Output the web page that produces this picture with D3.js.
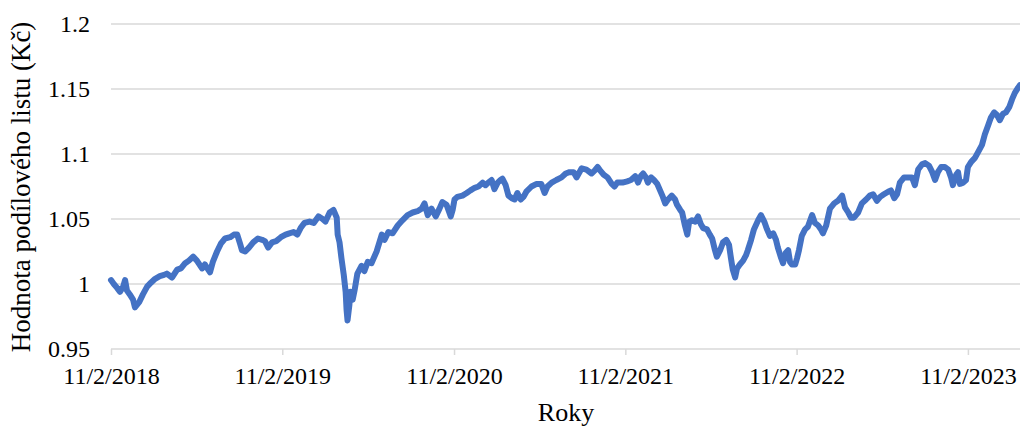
<!DOCTYPE html>
<html>
<head>
<meta charset="utf-8">
<script src="https://cdn.jsdelivr.net/npm/d3@7"></script>
<style>
  body { margin: 0; background: #fff; }
  text { font-family: "Liberation Serif", "Times New Roman", serif; fill: #000; }
</style>
</head>
<body>
<svg id="chart" width="1020" height="426"></svg>
<script>
// dates of the observations (m/d/yyyy readings from the picture)
const dates = [
  "2018-11-02","2018-11-08","2018-11-15","2018-11-21","2018-11-28","2018-12-02","2018-12-06","2018-12-12","2018-12-19","2018-12-23",
  "2019-01-01","2019-01-09","2019-01-18","2019-01-26","2019-02-04","2019-02-14","2019-02-23","2019-03-01","2019-03-12","2019-03-23",
  "2019-03-31","2019-04-09","2019-04-17","2019-04-26","2019-05-04","2019-05-15","2019-05-21","2019-06-01","2019-06-07","2019-06-16",
  "2019-06-24","2019-07-03","2019-07-14","2019-07-22","2019-07-29","2019-08-04","2019-08-08","2019-08-15","2019-08-23","2019-09-01",
  "2019-09-11","2019-09-20","2019-09-26","2019-10-03","2019-10-11","2019-10-20","2019-10-30",
  "2019-11-09","2019-11-17","2019-11-26","2019-12-04","2019-12-11","2019-12-19","2019-12-30","2020-01-08","2020-01-18","2020-01-27",
  "2020-02-02","2020-02-11","2020-02-19","2020-02-26","2020-02-28","2020-03-03","2020-03-07","2020-03-12","2020-03-16","2020-03-18",
  "2020-03-20","2020-03-24","2020-03-26","2020-03-31","2020-04-04","2020-04-10","2020-04-19","2020-04-25","2020-05-02","2020-05-10",
  "2020-05-21","2020-06-01","2020-06-07","2020-06-15","2020-06-24","2020-07-05","2020-07-15","2020-07-26","2020-08-06","2020-08-16",
  "2020-08-25","2020-08-31","2020-09-07","2020-09-15","2020-09-24","2020-10-02","2020-10-08","2020-10-17","2020-10-26","2020-10-30",
  "2020-11-03","2020-11-09","2020-11-20","2020-11-29","2020-12-07","2020-12-16","2020-12-24","2021-01-02","2021-01-08","2021-01-14",
  "2021-01-21","2021-01-27","2021-02-03","2021-02-09","2021-02-13","2021-02-20","2021-02-26","2021-03-05","2021-03-11","2021-03-17",
  "2021-03-24","2021-03-30","2021-04-05","2021-04-16","2021-04-27","2021-05-07","2021-05-14","2021-05-20","2021-05-29","2021-06-08",
  "2021-06-19","2021-06-28","2021-07-06","2021-07-15","2021-07-21","2021-08-01","2021-08-11","2021-08-22","2021-08-28","2021-09-04",
  "2021-09-10","2021-09-17","2021-09-25","2021-10-04","2021-10-10","2021-10-16","2021-10-27",
  "2021-11-06","2021-11-14","2021-11-23","2021-11-29","2021-12-05","2021-12-10","2021-12-16","2021-12-20","2021-12-27","2022-01-02",
  "2022-01-09","2022-01-15","2022-01-21","2022-01-26","2022-02-01","2022-02-09","2022-02-16","2022-02-20","2022-02-27","2022-03-03",
  "2022-03-09","2022-03-14","2022-03-18","2022-03-24","2022-03-31","2022-04-06","2022-04-12","2022-04-17","2022-04-25","2022-05-01",
  "2022-05-06","2022-05-12","2022-05-16","2022-05-23","2022-05-29","2022-06-05","2022-06-11","2022-06-15","2022-06-19","2022-06-24",
  "2022-06-28","2022-07-04","2022-07-11","2022-07-17","2022-07-21","2022-07-28","2022-08-03","2022-08-12","2022-08-18","2022-08-25",
  "2022-08-31","2022-09-06","2022-09-13","2022-09-19","2022-09-23","2022-09-30","2022-10-04","2022-10-10","2022-10-15","2022-10-19",
  "2022-10-23","2022-10-30",
  "2022-11-03","2022-11-07","2022-11-13","2022-11-20","2022-11-26","2022-12-05","2022-12-11","2022-12-18","2022-12-24","2022-12-28",
  "2023-01-04","2023-01-12","2023-01-21","2023-01-29","2023-02-07","2023-02-13","2023-02-20","2023-02-26","2023-03-04","2023-03-13",
  "2023-03-21","2023-03-30","2023-04-07","2023-04-14","2023-04-22","2023-04-29","2023-05-07","2023-05-16","2023-05-22","2023-05-29",
  "2023-06-04","2023-06-10","2023-06-19","2023-06-27","2023-07-06","2023-07-12","2023-07-19","2023-07-27","2023-08-03","2023-08-11",
  "2023-08-18","2023-08-24","2023-08-30","2023-09-06","2023-09-14","2023-09-21","2023-09-27","2023-10-01","2023-10-08","2023-10-12",
  "2023-10-16","2023-10-23","2023-10-29","2023-11-02","2023-11-09","2023-11-17","2023-11-26","2023-12-02","2023-12-08","2023-12-15",
  "2023-12-21","2023-12-28","2024-01-03","2024-01-09","2024-01-16","2024-01-22","2024-01-29","2024-02-04","2024-02-10","2024-02-17",
  "2024-02-21"
];

// unit value (Kč)
const values = [
  1.003,1.000,0.997,0.994,0.998,1.003,0.995,0.992,0.988,0.982,
  0.986,0.992,0.998,1.001,1.004,1.006,1.007,1.008,1.005,1.011,
  1.012,1.016,1.018,1.021,1.018,1.012,1.015,1.009,1.017,1.025,
  1.031,1.035,1.036,1.038,1.038,1.031,1.026,1.025,1.028,1.032,
  1.035,1.034,1.033,1.028,1.032,1.033,1.036,
  1.038,1.039,1.040,1.038,1.043,1.047,1.048,1.047,1.052,1.050,
  1.048,1.055,1.057,1.051,1.038,1.032,1.020,1.007,0.994,0.980,
  0.972,0.984,0.994,0.988,0.995,1.008,1.014,1.010,1.017,1.016,
  1.025,1.038,1.034,1.040,1.039,1.045,1.049,1.053,1.055,1.056,
  1.058,1.062,1.053,1.058,1.052,1.058,1.063,1.061,1.052,1.057,
  1.065,1.067,1.068,1.070,1.072,1.074,1.075,1.078,1.076,1.078,
  1.080,1.073,1.078,1.080,1.081,1.076,1.068,1.066,1.065,1.070,
  1.065,1.067,1.071,1.075,1.077,1.077,1.070,1.075,1.078,1.080,
  1.082,1.085,1.086,1.086,1.082,1.089,1.088,1.085,1.087,1.090,
  1.087,1.084,1.082,1.077,1.075,1.078,1.078,
  1.079,1.080,1.083,1.078,1.083,1.085,1.082,1.078,1.082,1.080,
  1.077,1.072,1.067,1.062,1.065,1.068,1.065,1.061,1.057,1.055,
  1.045,1.038,1.048,1.049,1.048,1.052,1.046,1.043,1.042,1.038,
  1.035,1.026,1.021,1.026,1.032,1.034,1.030,1.020,1.011,1.005,
  1.012,1.015,1.018,1.022,1.026,1.034,1.042,1.049,1.053,1.048,
  1.042,1.037,1.039,1.034,1.028,1.020,1.016,1.024,1.026,1.017,
  1.015,1.015,
  1.020,1.026,1.037,1.042,1.044,1.053,1.047,1.045,1.042,1.039,
  1.045,1.058,1.062,1.064,1.068,1.059,1.055,1.051,1.051,1.055,
  1.062,1.065,1.068,1.069,1.064,1.067,1.069,1.071,1.072,1.066,
  1.069,1.078,1.082,1.082,1.082,1.076,1.088,1.092,1.093,1.091,
  1.086,1.080,1.086,1.090,1.090,1.088,1.082,1.076,1.084,1.086,
  1.077,1.078,1.080,1.090,1.094,1.097,1.103,1.107,1.115,1.122,
  1.128,1.132,1.130,1.126,1.131,1.132,1.136,1.142,1.147,1.151,
  1.153
];

const yTicks = [0.95, 1, 1.05, 1.1, 1.15, 1.2];
const xTickDates = ["2018-11-02","2019-11-02","2020-11-02","2021-11-02","2022-11-02","2023-11-02"];
const domainEnd = "2024-02-21";

const parse = d3.timeParse("%Y-%m-%d");
const data = dates.map((d, i) => ({ date: parse(d), value: values[i] }));

const svg = d3.select("#chart");
const plotLeft = 111, plotRight = 1020, plotTop = 24, plotBottom = 349;

const x = d3.scaleTime()
    .domain([parse(dates[0]), parse(domainEnd)])
    .range([plotLeft, plotRight]);

const y = d3.scaleLinear()
    .domain([0.95, 1.2])
    .range([plotBottom, plotTop]);

// gridlines
svg.append("g")
    .selectAll("line")
    .data(yTicks)
    .join("line")
    .attr("x1", plotLeft)
    .attr("x2", plotRight)
    .attr("y1", d => y(d))
    .attr("y2", d => y(d))
    .attr("stroke", "#d9d9d9")
    .attr("stroke-width", 1.5);

// y tick labels
svg.append("g")
    .selectAll("text")
    .data(yTicks)
    .join("text")
    .attr("x", 90)
    .attr("y", d => y(d))
    .attr("dy", "0.34em")
    .attr("text-anchor", "end")
    .style("font-size", "24px")
    .text(d => d3.format("")(d));

// x axis
const xAxis = d3.axisBottom(x)
    .tickValues(xTickDates.map(parse))
    .tickFormat(d3.timeFormat("%-m/%-d/%Y"))
    .tickSize(6)
    .tickSizeOuter(0)
    .tickPadding(12);

const xg = svg.append("g")
    .attr("transform", "translate(0," + plotBottom + ")")
    .call(xAxis);
xg.select(".domain").remove();
xg.selectAll(".tick line").attr("stroke", "#d9d9d9").attr("stroke-width", 1.5);
xg.selectAll(".tick text")
    .style("font-family", "'Liberation Serif', 'Times New Roman', serif")
    .style("font-size", "24px")
    .attr("fill", "#000");

// line
const line = d3.line()
    .x(d => x(d.date))
    .y(d => y(d.value));

svg.append("path")
    .datum(data)
    .attr("fill", "none")
    .attr("stroke", "#4472C4")
    .attr("stroke-width", 6)
    .attr("stroke-linejoin", "round")
    .attr("stroke-linecap", "round")
    .attr("d", line);

// titles
svg.append("text")
    .attr("transform", "translate(30,187) rotate(-90)")
    .attr("text-anchor", "middle")
    .style("font-size", "27px")
    .text("Hodnota podílového listu (Kč)");

svg.append("text")
    .attr("x", 566)
    .attr("y", 421)
    .attr("text-anchor", "middle")
    .style("font-size", "26px")
    .text("Roky");
</script>
</body>
</html>
